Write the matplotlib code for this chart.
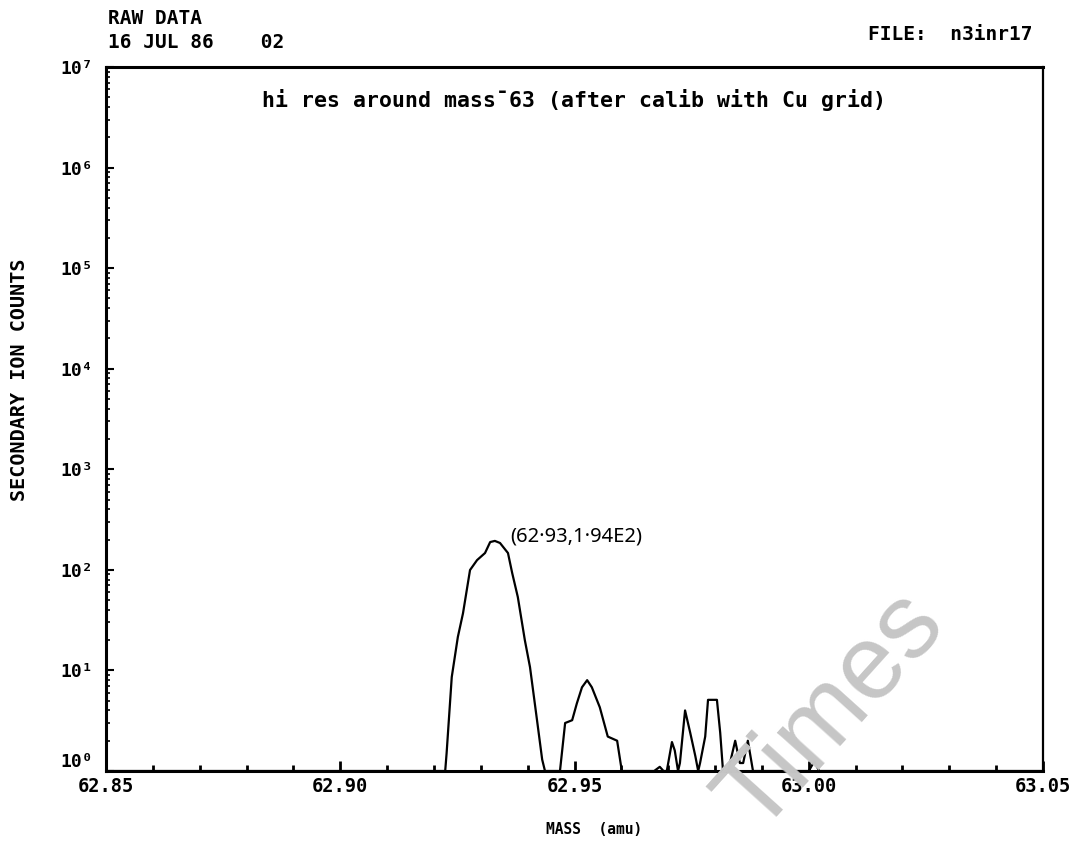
import numpy as np
import matplotlib
matplotlib.use("Agg")
import matplotlib.pyplot as plt
from matplotlib.ticker import FixedLocator, LogLocator, NullFormatter

# trace: mass (amu) and counts, baseline at 1 count
mass = [62.8500, 62.9000, 62.9224, 62.9227, 62.9238, 62.9251, 62.9262, 62.9277,
        62.9292, 62.9309, 62.9320, 62.9330, 62.9341, 62.9358, 62.9367, 62.9379,
        62.9394, 62.9405, 62.9420, 62.9431, 62.9437,
        62.9469, 62.9480, 62.9495, 62.9505, 62.9516, 62.9527, 62.9537, 62.9554,
        62.9571, 62.9591, 62.9601,
        62.9670, 62.9682, 62.9690, 62.9697, 62.9708, 62.9714, 62.9721, 62.9725,
        62.9736, 62.9747, 62.9758, 62.9764, 62.9768, 62.9779, 62.9785, 62.9804,
        62.9811, 62.9817, 62.9828, 62.9843, 62.9853, 62.9860, 62.9870, 62.9881,
        63.0000, 63.0012, 63.0022, 63.0500]
counts = [1.0, 1.0, 1.0, 1.5, 8.6, 21.5, 37.0, 99.6,
          125.0, 147.0, 189.0, 194.0, 185.0, 147.0, 93.0, 53.7,
          20.0, 10.8, 3.2, 1.3, 1.0,
          1.0, 3.0, 3.2, 4.7, 6.8, 8.0, 6.8, 4.3,
          2.2, 2.0, 1.0,
          1.0, 1.1, 1.0, 1.0, 1.94, 1.6, 1.0, 1.2,
          4.0, 2.4, 1.4, 1.0, 1.2, 2.2, 5.1, 5.1,
          2.4, 1.0, 1.0, 2.0, 1.2, 1.2, 2.0, 1.0,
          1.0, 1.25, 1.0, 1.0]

x_major = [62.85, 62.90, 62.95, 63.00, 63.05]
x_labels = ["62.85", "62.90", "62.95", "63.00", "63.05"]
y_major = [1e0, 1e1, 1e2, 1e3, 1e4, 1e5, 1e6, 1e7]
y_labels = ["10⁰", "10¹", "10²", "10³", "10⁴", "10⁵", "10⁶", "10⁷"]

mono = "DejaVu Sans Mono"

fig = plt.figure(figsize=(10.73, 8.41), dpi=100)
ax = fig.add_axes([106 / 1073, 1 - 771 / 841, 937 / 1073, 704 / 841])

ax.plot(mass, counts, color="black", lw=1.6, solid_joinstyle="round")

ax.set_yscale("log")
ax.set_xlim(62.85, 63.05)
ax.set_ylim(1, 1e7)

ax.xaxis.set_major_locator(FixedLocator(x_major))
ax.set_xticklabels(x_labels, fontfamily=mono, fontweight="bold", fontsize=13.5)
ax.xaxis.set_minor_locator(FixedLocator(np.arange(62.86, 63.05, 0.01)))
ax.set_yticks(y_major)
ax.set_yticklabels(y_labels, fontfamily=mono, fontweight="bold", fontsize=13)
ax.yaxis.set_minor_locator(LogLocator(base=10, subs=np.arange(2, 10)))
ax.yaxis.set_minor_formatter(NullFormatter())

ax.tick_params(axis="both", which="both", direction="in", color="black",
               top=False, right=False)
ax.tick_params(axis="x", which="major", length=7, width=2, pad=4)
ax.tick_params(axis="x", which="minor", length=4, width=2)
ax.tick_params(axis="y", which="major", length=6, width=1.5, pad=9)
ax.tick_params(axis="y", which="minor", length=3, width=1.2)
# the 10^0 label sits a little higher than its tick, above "62.85"
ax.get_yticklabels()[0].set_verticalalignment("bottom")

for s in ax.spines.values():
    s.set_linewidth(2.2)
ax.spines["right"].set_linewidth(1.6)

ax.text(0.5, 0.953, "hi res around mass¯63 (after calib with Cu grid)",
        transform=ax.transAxes, ha="center", va="center",
        fontfamily=mono, fontweight="bold", fontsize=15.5)

ax.annotate("(62·93,1·94E2)", xy=(62.933, 194), xytext=(62.9362, 215),
            fontfamily="Noto Sans", fontsize=14.5, va="center", ha="left")

fig.text(108 / 1073, 1 - 19 / 841, "RAW DATA", ha="left", va="center",
         fontfamily=mono, fontweight="bold", fontsize=14)
fig.text(108 / 1073, 1 - 42 / 841, "16 JUL 86    02", ha="left", va="center",
         fontfamily=mono, fontweight="bold", fontsize=14)
fig.text(1033 / 1073, 1 - 35 / 841, "FILE:  n3inr17", ha="right", va="center",
         fontfamily=mono, fontweight="bold", fontsize=14)
fig.text(20 / 1073, 1 - 380 / 841, "SECONDARY ION COUNTS", rotation=90,
         ha="center", va="center", fontfamily=mono, fontweight="bold", fontsize=14.5)
fig.text(594 / 1073, 1 - 829 / 841, "MASS  (amu)", ha="center", va="center",
         fontfamily=mono, fontweight="bold", fontsize=10.5)

# grey watermark over the lower right
fig.text(832 / 1073, 1 - 712 / 841, "Times", rotation=48, ha="center", va="center",
         fontfamily="Liberation Sans", fontsize=76, color="#c6c6c6", zorder=5)

fig.savefig("out.png", dpi=100)
